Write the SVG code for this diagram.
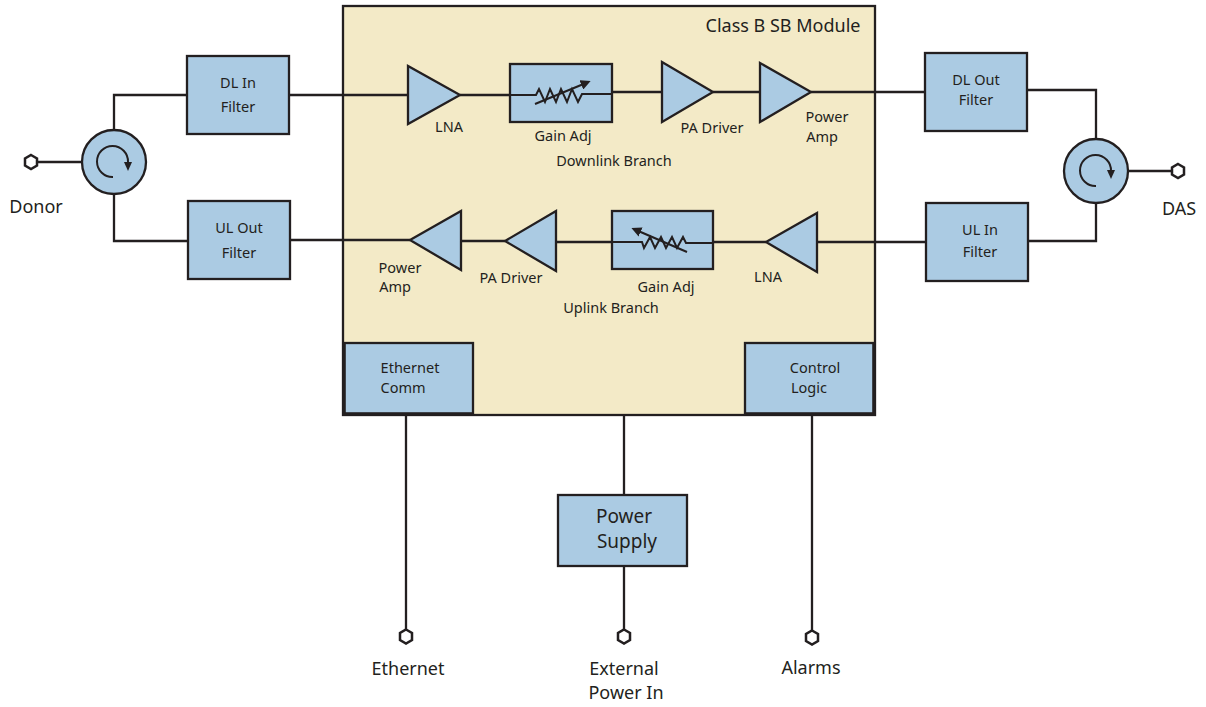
<svg xmlns="http://www.w3.org/2000/svg" width="1206" height="707" viewBox="0 0 1206 707">
<style>
.b{fill:#abcbe3;stroke:#231f20;stroke-width:2.3}
.w{fill:none;stroke:#231f20;stroke-width:2.3}
.t{fill:none;stroke:#231f20;stroke-width:2}
.p{fill:#fff;stroke:#231f20;stroke-width:2.5}
text{font-family:"Noto Sans","Open Sans","Liberation Sans",sans-serif;fill:#231f20;text-anchor:middle}
.s{font-size:14.5px}
.m{font-size:18px}
.l{font-size:19px}
</style>
<defs>
<marker id="a" markerWidth="5" markerHeight="5" refX="2.5" refY="2.5" orient="auto" markerUnits="strokeWidth"><path d="M0,0L5,2.5L0,5Z" fill="#231f20"/></marker>
</defs>
<g id="module"><rect x="343" y="6" width="532" height="409" fill="#f3eac7" stroke="#231f20" stroke-width="2.3"/><text x="783" y="32" class="m">Class B SB Module</text></g>
<g id="connectors">
<path class="w" d="M38,162H82M114,130V95H187M114,194V241H188M289,95H408M460,95H510M612,92H662M713,92H760M811,92H925M1027,90H1096V139M1096,203V241H1028M926,242H817M766,242H713M612,242H556M505,241H461M410,240H290M1128,171H1171M406,415V630M624,415V495M624,566V630M812,415V631"/>
</g>
<g id="donor-port"><path class="p" d="M31,155L37,158.500V165.500L31,169L25,165.500V158.500Z"/><text x="36" y="213" class="m">Donor</text></g>
<g id="das-port"><path class="p" d="M1178,164L1184,167.500V174.500L1178,178L1172,174.500V167.500Z"/><text x="1179" y="215" class="m">DAS</text></g>
<g id="circulator-left"><circle class="b" cx="114" cy="162" r="32"/><path class="t" d="M113,177A15.500,15.500 0 1 1 128,162"/><path d="M124,162H132L128,171Z" fill="#231f20"/></g>
<g id="circulator-right"><circle class="b" cx="1096" cy="171" r="32"/><path class="t" d="M1096,186A15.500,15.500 0 1 1 1111,171"/><path d="M1107,170H1115L1111,179Z" fill="#231f20"/></g>
<g id="dl-in"><rect class="b" x="187" y="56" width="102" height="78"/><text x="238" y="88" class="s">DL In</text><text x="238" y="112" class="s">Filter</text></g>
<g id="ul-out"><rect class="b" x="188" y="201" width="102" height="78"/><text x="239" y="233" class="s">UL Out</text><text x="239" y="258" class="s">Filter</text></g>
<g id="dl-out"><rect class="b" x="925" y="53" width="102" height="78"/><text x="976" y="85" class="s">DL Out</text><text x="976" y="105" class="s">Filter</text></g>
<g id="ul-in"><rect class="b" x="926" y="203" width="102" height="78"/><text x="980" y="235" class="s">UL In</text><text x="980" y="257" class="s">Filter</text></g>
<g id="dl-lna"><path class="b" d="M408,66V124L460,95Z"/><text x="449" y="132" class="s">LNA</text></g>
<g id="dl-gain"><rect class="b" x="510" y="64" width="102" height="58"/><path class="t" d="M510,95H536L539,89L545,102L550,89L556,102L561,89L567,102L572,89L578,102L582,94H612"/><path class="t" d="M535,104L586,83" marker-end="url(#a)"/><text x="563" y="141" class="s">Gain Adj</text></g>
<g id="dl-driver"><path class="b" d="M662,62V122L713,92Z"/><text x="712" y="133" class="s">PA Driver</text></g>
<g id="dl-power"><path class="b" d="M760,63V122L811,92Z"/><text x="827" y="122" class="s">Power</text><text x="822" y="142" class="s">Amp</text></g>
<text id="dl-branch" x="614" y="166" class="s">Downlink Branch</text>
<g id="ul-power"><path class="b" d="M461,211V270L410,240Z"/><text x="400" y="273" class="s">Power</text><text x="395" y="292" class="s">Amp</text></g>
<g id="ul-driver"><path class="b" d="M556,211V271L505,241Z"/><text x="511" y="283" class="s">PA Driver</text></g>
<g id="ul-gain"><rect class="b" x="612" y="211" width="101" height="58"/><path class="t" d="M612,242H642L644,248L650,237L655,248L661,237L666,248L672,237L677,248L683,237L686,243H713"/><path class="t" d="M687,252L636,230" marker-end="url(#a)"/><text x="666" y="292" class="s">Gain Adj</text></g>
<g id="ul-lna"><path class="b" d="M817,213V272L766,242Z"/><text x="768" y="282" class="s">LNA</text></g>
<text id="ul-branch" x="611" y="313" class="s">Uplink Branch</text>
<g id="ethernet-comm"><rect class="b" x="344" y="343" width="129" height="71"/><path d="M344,343V414H473" fill="none" stroke="#231f20" stroke-width="3.500"/><text x="410" y="373" class="s">Ethernet</text><text x="403" y="393" class="s">Comm</text></g>
<g id="control-logic"><rect class="b" x="745" y="343" width="129" height="71"/><path d="M745,414H874V343" fill="none" stroke="#231f20" stroke-width="3.500"/><text x="815" y="373" class="s">Control</text><text x="809" y="393" class="s">Logic</text></g>
<g id="power-supply"><rect class="b" x="558" y="495" width="129" height="71"/><text x="624" y="523" class="l">Power</text><text x="627" y="548" class="l">Supply</text></g>
<g id="ethernet-port"><path class="p" d="M406,629.500L412,633V640L406,643.500L400,640V633Z"/><text x="408" y="675" class="m">Ethernet</text></g>
<g id="power-port"><path class="p" d="M624,629.500L630,633V640L624,643.500L618,640V633Z"/><text x="624" y="675" class="m">External</text><text x="626" y="699" class="m">Power In</text></g>
<g id="alarms-port"><path class="p" d="M812,630.500L818,634V641L812,644.500L806,641V634Z"/><text x="811" y="674" class="m">Alarms</text></g>
</svg>
